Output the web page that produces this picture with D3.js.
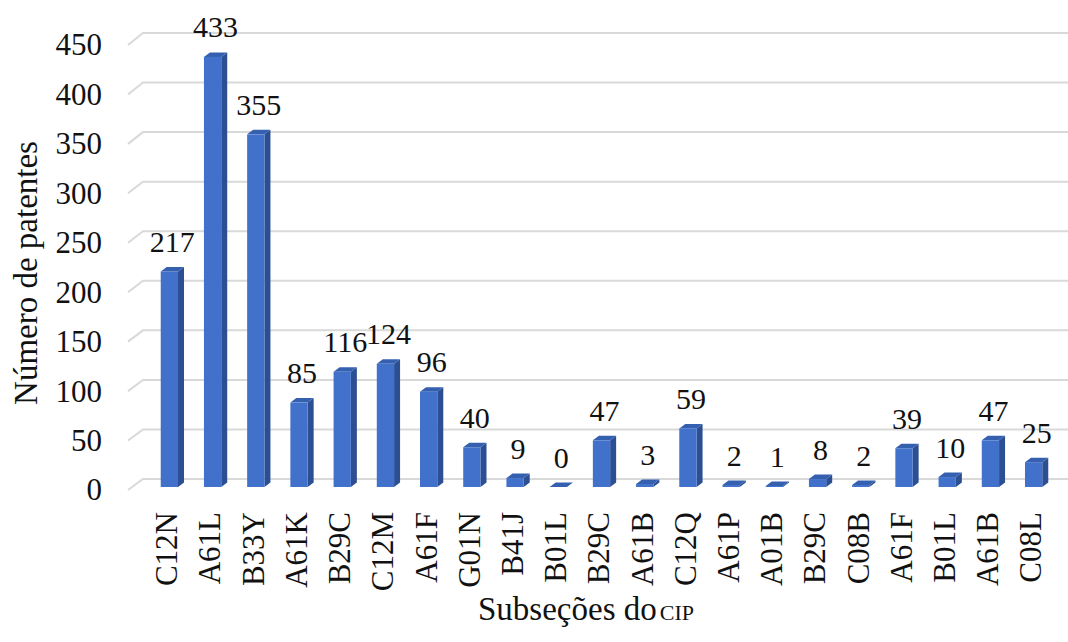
<!DOCTYPE html>
<html>
<head>
<meta charset="utf-8">
<script src="https://cdn.jsdelivr.net/npm/d3@7"></script>
<style>
  body { margin: 0; background: #fff; }
</style>
</head>
<body>
<div id="chart"></div>
<script>
const categories = ['C12N', 'A61L', 'B33Y', 'A61K', 'B29C', 'C12M', 'A61F', 'G01N', 'B41J', 'B01L', 'B29C',
  'A61B', 'C12Q', 'A61P', 'A01B', 'B29C', 'C08B', 'A61F', 'B01L', 'A61B', 'C08L'];
const values = [217, 433, 355, 85, 116, 124, 96, 40, 9, 0, 47, 3, 59, 2, 1, 8, 2, 39, 10, 47, 25];
const yTicks = [0, 50, 100, 150, 200, 250, 300, 350, 400, 450];

const width = 1068, height = 642;
const serif = 'Liberation Serif';
const depthX = 6, depthY = -4.5; // bar depth offset
const wallX = 15;                 // floor depth, front edge to back wall

const svg = d3.select('#chart').append('svg')
  .attr('width', width)
  .attr('height', height)
  .attr('font-family', serif);

const idx = d3.range(categories.length);

const x = d3.scaleBand()
  .domain(idx)
  .range([134.8, 1068.2])
  .padding(0.6);

// front edge of the floor (tick labels), back wall (gridlines), bar front faces
const yFront = d3.scaleLinear().domain([0, 450]).range([490, 45]);
const yBack = d3.scaleLinear().domain([0, 450]).range([479, 33]);
const yBar = d3.scaleLinear().domain([0, 450]).range([487, 40]);

// gridlines with the little 3D floor diagonal
svg.append('g')
  .selectAll('path')
  .data(yTicks)
  .enter().append('path')
  .attr('d', d => `M128,${yFront(d)}L${128 + wallX},${yBack(d)}L${width},${yBack(d)}`)
  .attr('fill', 'none')
  .attr('stroke', '#d9d9d9')
  .attr('stroke-width', 2);

// bars
const bars = svg.append('g')
  .selectAll('g')
  .data(idx)
  .enter().append('g');

// right side
bars.append('path')
  .attr('d', i => {
    const x1 = x(i) + x.bandwidth();
    const y0 = yBar(0), y1 = yBar(values[i]);
    return `M${x1},${y1}L${x1 + depthX},${y1 + depthY}L${x1 + depthX},${y0 + depthY}L${x1},${y0}Z`;
  })
  .attr('fill', '#2c4f93');

// top
bars.append('path')
  .attr('d', i => {
    const x0 = x(i), x1 = x(i) + x.bandwidth();
    const y1 = yBar(values[i]);
    return `M${x0},${y1}L${x0 + depthX},${y1 + depthY}L${x1 + depthX},${y1 + depthY}L${x1},${y1}Z`;
  })
  .attr('fill', '#3560b0');

// front
bars.append('rect')
  .attr('x', i => x(i))
  .attr('y', i => yBar(values[i]))
  .attr('width', x.bandwidth())
  .attr('height', i => yBar(0) - yBar(values[i]))
  .attr('fill', '#4171cb');

// value labels
svg.append('g')
  .selectAll('text')
  .data(idx)
  .enter().append('text')
  .attr('x', i => x(i) + x.bandwidth() / 2 + depthX / 2)
  .attr('y', i => yBar(values[i]) + depthY - 15)
  .attr('text-anchor', 'middle')
  .attr('font-family', serif)
  .attr('font-size', 30)
  .attr('fill', '#111')
  .text(i => values[i]);

// y axis (labels only)
const yAxis = svg.append('g')
  .attr('transform', 'translate(102,0)')
  .call(d3.axisLeft(yFront).tickValues(yTicks).tickSize(0).tickPadding(0));
yAxis.attr('font-family', serif).attr('font-size', 31);
yAxis.select('.domain').remove();
yAxis.selectAll('text')
  .attr('font-family', serif)
  .attr('fill', '#111');

// x axis (rotated category labels)
const xAxis = svg.append('g')
  .attr('transform', 'translate(-3,512)')
  .call(d3.axisBottom(x).tickFormat(i => categories[i]).tickSize(0).tickPadding(0));
xAxis.attr('font-family', serif).attr('font-size', 31);
xAxis.select('.domain').remove();
xAxis.selectAll('text')
  .attr('transform', 'rotate(-90)')
  .attr('x', 0)
  .attr('y', 0)
  .attr('dy', '0.35em')
  .attr('text-anchor', 'end')
  .attr('font-family', serif)
  .attr('fill', '#111');

// y title
svg.append('text')
  .attr('transform', 'translate(37,273) rotate(-90)')
  .attr('text-anchor', 'middle')
  .attr('font-family', serif)
  .attr('font-size', 33)
  .attr('fill', '#111')
  .text('Número de patentes');

// x title
const xt = svg.append('text')
  .attr('x', 478)
  .attr('y', 620)
  .attr('font-family', serif)
  .attr('font-size', 33)
  .attr('fill', '#111');
xt.append('tspan').text('Subseções do');
xt.append('tspan').attr('dx', 3).attr('font-size', 22).text('CIP');
</script>
</body>
</html>
